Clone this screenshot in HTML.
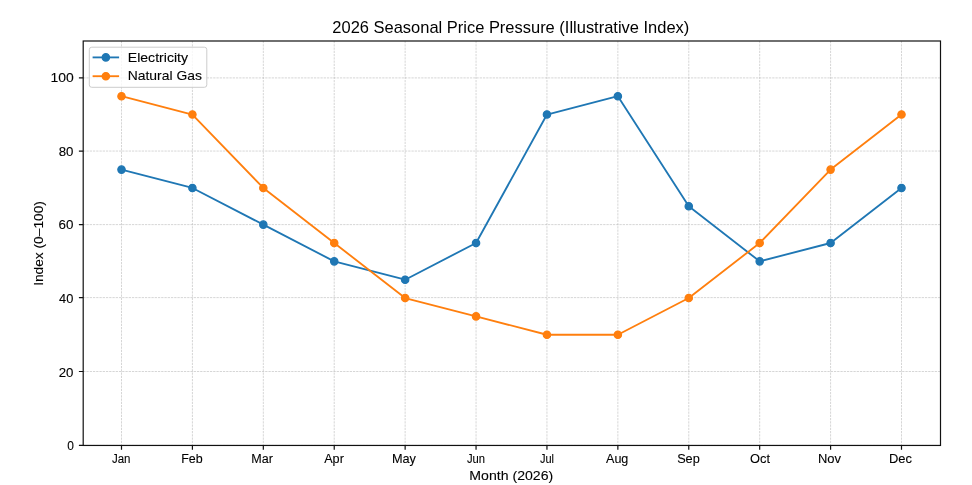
<!DOCTYPE html>
<html><head><meta charset="utf-8"><title>2026 Seasonal Price Pressure</title>
<style>html,body{margin:0;padding:0;background:#fff;width:972px;height:485px;overflow:hidden}svg{display:block;will-change:transform;font-family:"Liberation Sans",sans-serif}</style>
</head><body>
<svg width="972" height="485" viewBox="0 0 972 485">
<rect width="972" height="485" fill="#fff"/>
<path d="M121.5 41V445.45M192.41 41V445.45M263.32 41V445.45M334.23 41V445.45M405.14 41V445.45M476.05 41V445.45M546.95 41V445.45M617.86 41V445.45M688.77 41V445.45M759.68 41V445.45M830.59 41V445.45M901.5 41V445.45M83.2 445.45H940.5M83.2 371.5H940.5M83.2 297.6H940.5M83.2 224.6H940.5M83.2 151.05H940.5M83.2 77.9H940.5" fill="none" stroke="#b0b0b0" stroke-opacity="0.85" stroke-width="0.61" stroke-dasharray="2.27 0.98"/>
<polyline points="121.5,169.6 192.41,187.95 263.32,224.65 334.23,261.35 405.14,279.7 476.05,243 546.95,114.55 617.86,96.2 688.77,206.3 759.68,261.35 830.59,243 901.5,187.95" fill="none" stroke="#1f77b4" stroke-width="1.84" stroke-linejoin="round" stroke-linecap="butt"/>
<circle cx="121.5" cy="169.6" r="3.68" fill="#1f77b4" stroke="#1f77b4" stroke-width="1.227"/>
<circle cx="192.41" cy="187.95" r="3.68" fill="#1f77b4" stroke="#1f77b4" stroke-width="1.227"/>
<circle cx="263.32" cy="224.65" r="3.68" fill="#1f77b4" stroke="#1f77b4" stroke-width="1.227"/>
<circle cx="334.23" cy="261.35" r="3.68" fill="#1f77b4" stroke="#1f77b4" stroke-width="1.227"/>
<circle cx="405.14" cy="279.7" r="3.68" fill="#1f77b4" stroke="#1f77b4" stroke-width="1.227"/>
<circle cx="476.05" cy="243" r="3.68" fill="#1f77b4" stroke="#1f77b4" stroke-width="1.227"/>
<circle cx="546.95" cy="114.55" r="3.68" fill="#1f77b4" stroke="#1f77b4" stroke-width="1.227"/>
<circle cx="617.86" cy="96.2" r="3.68" fill="#1f77b4" stroke="#1f77b4" stroke-width="1.227"/>
<circle cx="688.77" cy="206.3" r="3.68" fill="#1f77b4" stroke="#1f77b4" stroke-width="1.227"/>
<circle cx="759.68" cy="261.35" r="3.68" fill="#1f77b4" stroke="#1f77b4" stroke-width="1.227"/>
<circle cx="830.59" cy="243" r="3.68" fill="#1f77b4" stroke="#1f77b4" stroke-width="1.227"/>
<circle cx="901.5" cy="187.95" r="3.68" fill="#1f77b4" stroke="#1f77b4" stroke-width="1.227"/>
<polyline points="121.5,96.2 192.41,114.55 263.32,187.95 334.23,243 405.14,298.05 476.05,316.4 546.95,334.75 617.86,334.75 688.77,298.05 759.68,243 830.59,169.6 901.5,114.55" fill="none" stroke="#ff7f0e" stroke-width="1.84" stroke-linejoin="round" stroke-linecap="butt"/>
<circle cx="121.5" cy="96.2" r="3.68" fill="#ff7f0e" stroke="#ff7f0e" stroke-width="1.227"/>
<circle cx="192.41" cy="114.55" r="3.68" fill="#ff7f0e" stroke="#ff7f0e" stroke-width="1.227"/>
<circle cx="263.32" cy="187.95" r="3.68" fill="#ff7f0e" stroke="#ff7f0e" stroke-width="1.227"/>
<circle cx="334.23" cy="243" r="3.68" fill="#ff7f0e" stroke="#ff7f0e" stroke-width="1.227"/>
<circle cx="405.14" cy="298.05" r="3.68" fill="#ff7f0e" stroke="#ff7f0e" stroke-width="1.227"/>
<circle cx="476.05" cy="316.4" r="3.68" fill="#ff7f0e" stroke="#ff7f0e" stroke-width="1.227"/>
<circle cx="546.95" cy="334.75" r="3.68" fill="#ff7f0e" stroke="#ff7f0e" stroke-width="1.227"/>
<circle cx="617.86" cy="334.75" r="3.68" fill="#ff7f0e" stroke="#ff7f0e" stroke-width="1.227"/>
<circle cx="688.77" cy="298.05" r="3.68" fill="#ff7f0e" stroke="#ff7f0e" stroke-width="1.227"/>
<circle cx="759.68" cy="243" r="3.68" fill="#ff7f0e" stroke="#ff7f0e" stroke-width="1.227"/>
<circle cx="830.59" cy="169.6" r="3.68" fill="#ff7f0e" stroke="#ff7f0e" stroke-width="1.227"/>
<circle cx="901.5" cy="114.55" r="3.68" fill="#ff7f0e" stroke="#ff7f0e" stroke-width="1.227"/>
<rect x="83.2" y="41" width="857.3" height="404.45" fill="none" stroke="#111" stroke-width="1.2" stroke-linejoin="miter"/>
<path d="M121.5 445.45v4.3M192.41 445.45v4.3M263.32 445.45v4.3M334.23 445.45v4.3M405.14 445.45v4.3M476.05 445.45v4.3M546.95 445.45v4.3M617.86 445.45v4.3M688.77 445.45v4.3M759.68 445.45v4.3M830.59 445.45v4.3M901.5 445.45v4.3M83.2 445.45h-4.3M83.2 371.5h-4.3M83.2 297.6h-4.3M83.2 224.6h-4.3M83.2 151.05h-4.3M83.2 77.9h-4.3" stroke="#111" stroke-width="1.2"/>
<rect x="89.3" y="47.2" width="117.5" height="40.1" rx="2.45" fill="#fff" fill-opacity="0.8" stroke="#ccc" stroke-width="1.0"/>
<path d="M92.6 57.4H119.1" stroke="#1f77b4" stroke-width="1.84"/>
<circle cx="105.85" cy="57.4" r="3.68" fill="#1f77b4" stroke="#1f77b4" stroke-width="1.227"/>
<path d="M92.6 76.2H119.1" stroke="#ff7f0e" stroke-width="1.84"/>
<circle cx="105.85" cy="76.2" r="3.68" fill="#ff7f0e" stroke="#ff7f0e" stroke-width="1.227"/>
<text transform="translate(332.36 33) scale(1.0437 1)" font-size="15.8">2026 Seasonal Price Pressure (Illustrative Index)</text>
<text stroke="#000" stroke-width="0.1" transform="translate(469.32 479.7) scale(1.0776 1)" font-size="13.1">Month (2026)</text>
<text stroke="#000" stroke-width="0.1" transform="translate(42.5 284.8) rotate(-90) scale(1.0494 1) translate(-1 0)" font-size="13.1">Index (0–100)</text>
<text stroke="#000" stroke-width="0.1" transform="translate(111.9 462.5) scale(0.8800 1)" font-size="13.1">Jan</text>
<text stroke="#000" stroke-width="0.1" transform="translate(181.25 462.5) scale(0.9524 1)" font-size="13.1">Feb</text>
<text stroke="#000" stroke-width="0.1" transform="translate(251.24 462.5) scale(0.9591 1)" font-size="13.1">Mar</text>
<text stroke="#000" stroke-width="0.1" transform="translate(324.2 462.5) scale(0.9650 1)" font-size="13.1">Apr</text>
<text stroke="#000" stroke-width="0.1" transform="translate(391.93 462.5) scale(0.9708 1)" font-size="13.1">May</text>
<text stroke="#000" stroke-width="0.1" transform="translate(466.9 462.5) scale(0.8600 1)" font-size="13.1">Jun</text>
<text stroke="#000" stroke-width="0.1" transform="translate(539.9 462.5) scale(0.8375 1)" font-size="13.1">Jul</text>
<text stroke="#000" stroke-width="0.1" transform="translate(606 462.5) scale(0.9609 1)" font-size="13.1">Aug</text>
<text stroke="#000" stroke-width="0.1" transform="translate(677.13 462.5) scale(0.9727 1)" font-size="13.1">Sep</text>
<text stroke="#000" stroke-width="0.1" transform="translate(750.1 462.5) scale(0.9800 1)" font-size="13.1">Oct</text>
<text stroke="#000" stroke-width="0.1" transform="translate(817.91 462.5) scale(0.9909 1)" font-size="13.1">Nov</text>
<text stroke="#000" stroke-width="0.1" transform="translate(888.91 462.5) scale(0.9909 1)" font-size="13.1">Dec</text>
<text stroke="#000" stroke-width="0.1" transform="translate(67.2 449.65) scale(0.9143 1)" font-size="13.1">0</text>
<text stroke="#000" stroke-width="0.1" transform="translate(58.7 376.85) scale(1.0143 1)" font-size="13.1">20</text>
<text stroke="#000" stroke-width="0.1" transform="translate(59 303.1) scale(0.9786 1)" font-size="13.1">40</text>
<text stroke="#000" stroke-width="0.1" transform="translate(58.6 229.3) scale(1.0214 1)" font-size="13.1">60</text>
<text stroke="#000" stroke-width="0.1" transform="translate(58.7 156.35) scale(1.0143 1)" font-size="13.1">80</text>
<text stroke="#000" stroke-width="0.1" transform="translate(50.54 82.35) scale(1.0650 1)" font-size="13.1">100</text>
<text stroke="#000" stroke-width="0.1" transform="translate(127.72 61.8) scale(1.0782 1)" font-size="13.1">Electricity</text>
<text stroke="#000" stroke-width="0.1" transform="translate(127.74 80.1) scale(1.0618 1)" font-size="13.1">Natural Gas</text>
</svg>
</body></html>
